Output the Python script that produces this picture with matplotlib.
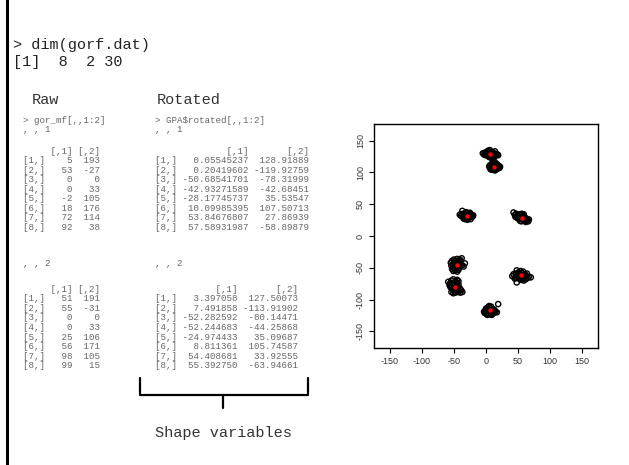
import matplotlib
matplotlib.use("Agg")
import matplotlib.pyplot as plt
from matplotlib.path import Path
from matplotlib.patches import PathPatch, Rectangle

# ---------------- data ----------------
dims = [8, 2, 30]

raw1_x = [5, 53, 0, 0, -2, 18, 72, 92]
raw1_y = [193, -27, 0, 33, 105, 176, 114, 38]
raw2_x = [51, 55, 0, 0, 25, 56, 98, 99]
raw2_y = [191, -31, 0, 33, 106, 171, 105, 15]

rot1_x = ["0.05545237", "0.20419602", "-50.68541701", "-42.93271589",
          "-28.17745737", "10.09985395", "53.84676807", "57.58931987"]
rot1_y = ["128.91889", "-119.92759", "-78.31999", "-42.68451",
          "35.53547", "107.50713", "27.86939", "-58.89879"]
rot2_x = ["3.397058", "7.491858", "-52.282592", "-52.244683",
          "-24.974433", "8.811361", "54.408681", "55.392750"]
rot2_y = ["127.50073", "-113.91902", "-80.14471", "-44.25868",
          "35.09687", "105.74587", "33.92555", "-63.94661"]

# consensus (mean) shape, landmarks 1..8
cons_x = [6, 6, -48, -45, -29, 12, 56, 55]
cons_y = [129, -117, -80, -45, 31.5, 109, 29, -62]

# per-landmark specimen deviations from the consensus (30 specimens)
dev_x = [
    [-11, -9, -8, -6, -5, -4, -3, -2, -1, 0, 1, 2, 3, 4, 5, 6, 7, 8, 9, 10, 12, 13, -7, -3, 0, 2, 4, 6, -1, 3],
    [-9, -8, -7, -6, -5, -4, -3, -2, -1, 0, 1, 2, 3, 4, 5, 6, 7, 8, 9, 11, 13, -6, -3, 0, 2, 5, -1, 3, -4, 1],
    [-11, -9, -8, -7, -6, -5, -4, -3, -2, -1, 0, 1, 2, 3, 4, 5, 6, 7, 8, 9, 11, -6, -3, 0, 3, -8, -2, 2, 5, 1],
    [-10, -9, -8, -7, -6, -5, -4, -3, -2, -1, 0, 1, 2, 3, 4, 5, 6, 7, 8, 10, 12, -8, -6, -3, 0, 2, 4, -5, -1, 3],
    [-12, -10, -9, -7, -6, -5, -4, -3, -2, -1, 0, 1, 2, 3, 4, 5, 6, 7, 8, 9, -8, -6, -2, 0, 3, 5, -4, 1, -1, 4],
    [-7, -6, -5, -4, -3, -2, -1, 0, 1, 2, 3, 4, 5, 6, 7, 8, 9, 10, -5, -2, 0, 3, 6, -3, 1, 4, -1, 2, 5, -4],
    [-13, -11, -9, -8, -6, -5, -4, -3, -2, -1, 0, 1, 2, 3, 4, 5, 6, 7, 8, 9, 10, 11, -10, -7, -3, 0, 3, 6, -1, 2],
    [-14, -12, -11, -9, -8, -7, -6, -5, -4, -3, -2, -1, 0, 1, 2, 3, 4, 5, 6, 7, 8, 9, 10, 12, 15, -7, -10, 0, 4, -2],
]
dev_y = [
    [1, -1, 2, 0, -2, 3, 1, -3, 4, 0, -4, 2, -1, 3, -5, 1, -2, 4, -3, 0, -1, -2, -2, 5, 6, -6, 2, -4, -5, 1],
    [-2, -4, 0, -5, 2, -3, -6, 1, -2, 4, -1, 3, -4, 0, 2, -3, 1, -1, -2, -3, 10, 3, 5, -6, 6, -5, 7, -7, -7, -4],
    [8, 3, 6, -1, 10, 2, -4, 12, 5, -7, 9, 0, -3, 6, -8, 4, -6, -2, -9, -5, -8, -8, -10, -9, 11, 1, 3, 7, 9, -5],
    [3, -2, 6, 0, -5, 8, 2, -8, 5, -3, 9, 1, -6, 4, -2, 7, 0, 10, -1, -3, 2, -7, -10, -9, -11, -8, 8, 4, -4, 6],
    [2, 0, 3, -1, 1, 4, -2, 2, -3, 5, 0, -4, 3, -1, 1, -2, 2, 0, -1, 1, 8, -4, 6, -6, 4, -5, -5, 2, -2, 5],
    [0, 2, -2, 3, -1, 4, -3, 1, 5, -4, 2, -2, 0, 3, -1, 1, -2, 0, -4, 6, -5, 4, -3, -5, 8, 5, 2, -6, -4, 1],
    [8, 4, 6, 2, 3, -1, 5, 1, -2, 4, 0, -3, 2, -4, 1, -5, -1, -3, -2, -4, -6, -3, 1, -1, -5, 6, 5, -7, -6, 3],
    [-1, 2, 0, -3, 3, -11, 1, -2, 5, -4, 2, 7, -1, 4, -5, 6, 0, -3, 2, -6, -1, 3, -4, -2, -3, 8, -5, -7, -8, -6],
]

axis_ticks = [-150, -100, -50, 0, 50, 100, 150]

# ---------------- helpers ----------------
def raw_lines(xs, ys):
    out = ["     [,1] [,2]"]
    for i, (a, b) in enumerate(zip(xs, ys)):
        out.append(f"[{i+1},] {a:>4} {b:>4}")
    return out

def rot_lines(xs, ys):
    w1 = max(len(s) for s in xs)
    w2 = max(len(s) for s in ys)
    out = ["     " + "[,1]".rjust(w1) + " " + "[,2]".rjust(w2)]
    for i, (a, b) in enumerate(zip(xs, ys)):
        out.append(f"[{i+1},] " + a.rjust(w1) + " " + b.rjust(w2))
    return out

W, H = 629, 465
fig = plt.figure(figsize=(W / 100, H / 100), dpi=100)
fig.patch.set_facecolor("white")

# overlay in pixel coordinates for the slide text
ov = fig.add_axes([0, 0, 1, 1])
ov.set_xlim(0, W)
ov.set_ylim(H, 0)
ov.axis("off")

ov.add_patch(Rectangle((6, 0), 3, H, color="black", lw=0))

MONO = "Liberation Mono"
big = 11
small = 6.6
gray = "#666666"

ov.text(13, 45, "> dim(gorf.dat)", family=MONO, fontsize=big, color="#222222", va="center", ha="left")
ov.text(13, 62, "[1]  " + "  ".join(str(d) for d in dims[:2]) + " " + str(dims[2]),
        family=MONO, fontsize=big, color="#222222", va="center", ha="left")
ov.text(32, 100, "Raw", family=MONO, fontsize=big, color="#333333", va="center", ha="left")
ov.text(157, 100, "Rotated", family=MONO, fontsize=big, color="#333333", va="center", ha="left")

def block(x, y0, lines, step=9.5):
    for k, s in enumerate(lines):
        if s:
            ov.text(x, y0 + k * step, s, family=MONO, fontsize=small, color=gray,
                    va="center", ha="left")

left_x, right_x = 23, 155
block(left_x, 120, ["> gor_mf[,,1:2]", ", , 1"], step=9)
block(right_x, 120, ["> GPA$rotated[,,1:2]", ", , 1"], step=9)
block(left_x, 151, raw_lines(raw1_x, raw1_y))
block(right_x, 151, rot_lines(rot1_x, rot1_y))
block(left_x, 263, [", , 2"])
block(right_x, 263, [", , 2"])
block(left_x, 289, raw_lines(raw2_x, raw2_y), step=9.6)
block(right_x, 289, rot_lines(rot2_x, rot2_y), step=9.6)

# curly brace
xl, xr, xm = 140, 308, 223
yt, yh, yb = 378, 395, 408
verts = [(xl, yt), (xl, yh), (xl, yh), (xl + 10, yh), (xm - 8, yh),
         (xm, yh), (xm, yh), (xm, yb),
         (xm, yh), (xm, yh), (xm + 8, yh), (xr - 10, yh),
         (xr, yh), (xr, yh), (xr, yt)]
codes = [Path.MOVETO, Path.CURVE3, Path.CURVE3, Path.LINETO, Path.LINETO,
         Path.CURVE3, Path.CURVE3, Path.LINETO,
         Path.MOVETO, Path.CURVE3, Path.CURVE3, Path.LINETO,
         Path.CURVE3, Path.CURVE3, Path.LINETO]
ov.add_patch(PathPatch(Path(verts, codes), fill=False, lw=1.6, color="black",
                       capstyle="round", joinstyle="round"))
ov.text(xm, 433, "Shape variables", family=MONO, fontsize=big, color="#333333",
        va="center", ha="center")

# ---------------- scatter plot ----------------
ax = fig.add_axes([374 / W, 1 - 348 / H, (598 - 374) / W, (348 - 124) / H])
for lm in range(len(cons_x)):
    px = [cons_x[lm] + d for d in dev_x[lm]]
    py = [cons_y[lm] + d for d in dev_y[lm]]
    ax.scatter(px, py, s=14, facecolors="none", edgecolors="black", linewidths=1.0, zorder=2)
ax.scatter(cons_x, cons_y, s=10, color="red", zorder=3, linewidths=0)
ax.set_xlim(-175, 175)
ax.set_ylim(-176, 176)
ax.set_xticks(axis_ticks)
ax.set_yticks(axis_ticks)
ax.set_xticklabels([str(t) for t in axis_ticks])
ax.set_yticklabels([str(t) for t in axis_ticks], rotation=90, va="center")
ax.tick_params(labelsize=6.5, length=3.5, width=0.8, pad=3, colors="#333333",
               labelfontfamily="Liberation Sans")
ax.tick_params(axis="both", color="black")
for sp in ax.spines.values():
    sp.set_linewidth(1.0)
    sp.set_color("black")

fig.savefig("out.png", dpi=100, facecolor="white")
